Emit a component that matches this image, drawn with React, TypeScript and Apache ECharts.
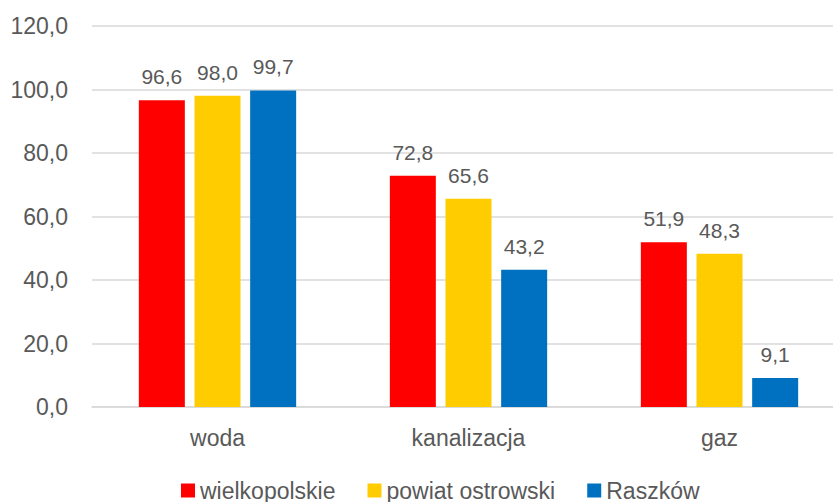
import React, { useEffect, useRef } from "react";
import * as echarts from "echarts";

const categories = ["woda", "kanalizacja", "gaz"];
const seriesNames = ["wielkopolskie", "powiat ostrowski", "Raszków"];
const wielkopolskie = [96.6, 72.8, 51.9];
const powiatOstrowski = [98.0, 65.6, 48.3];
const raszkow = [99.7, 43.2, 9.1];
const colors = ["#FF0000", "#FFCC00", "#0070C0"];

const fmt = (v: number) => v.toFixed(1).replace(".", ",");
const FONT = "'Liberation Sans', Arial, sans-serif";
const TXT = "#595959";

export default function App() {
  const ref = useRef<HTMLDivElement>(null);
  useEffect(() => {
    if (!ref.current) return;
    const chart = echarts.init(ref.current, undefined, { renderer: "svg" });
    const data = [wielkopolskie, powiatOstrowski, raszkow];
    chart.setOption({
      animation: false,
      textStyle: { fontFamily: FONT },
      grid: { left: 92, right: 0, top: 26, bottom: 95 },
      legend: {
        left: 176,
        top: 474,
        itemWidth: 14,
        itemHeight: 14,
        itemGap: 32,
        icon: "rect",
        textStyle: { fontSize: 23, color: TXT, fontFamily: FONT },
        data: seriesNames,
      },
      xAxis: {
        type: "category",
        data: categories,
        axisTick: { show: false },
        axisLine: { lineStyle: { color: "#D9D9D9", width: 1.5 } },
        axisLabel: { fontSize: 23, color: TXT, fontFamily: FONT, margin: 19 },
      },
      yAxis: {
        type: "value",
        min: 0,
        max: 120,
        interval: 20,
        axisLine: { show: false },
        axisTick: { show: false },
        splitLine: { lineStyle: { color: "#D9D9D9", width: 1.5 } },
        axisLabel: {
          fontSize: 23,
          color: TXT,
          fontFamily: FONT,
          margin: 24,
          formatter: (v: number) => fmt(v),
        },
      },
      series: seriesNames.map((name, i) => ({
        name,
        type: "bar",
        data: data[i],
        barWidth: 46,
        barGap: "21%",
        itemStyle: { color: colors[i] },
        label: {
          show: true,
          position: "top",
          distance: 13,
          fontSize: 21,
          color: TXT,
          fontFamily: FONT,
          formatter: (p: any) => fmt(p.value),
        },
      })),
    });
    return () => chart.dispose();
  }, []);
  return (
    <div
      style={{
        position: "absolute",
        left: 0,
        top: 0,
        width: 833,
        height: 502,
        overflow: "hidden",
      }}
    >
      <div ref={ref} style={{ width: 845, height: 502 }} />
    </div>
  );
}
